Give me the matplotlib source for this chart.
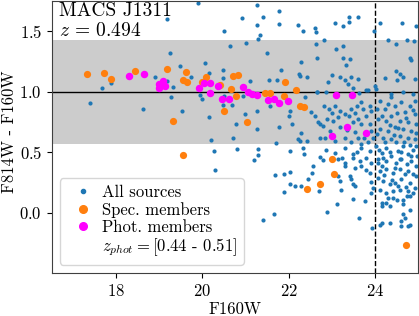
import matplotlib
matplotlib.use("Agg")
import matplotlib.pyplot as plt
from matplotlib.lines import Line2D

plt.rcParams['font.family'] = 'serif'
plt.rcParams['font.serif'] = ['cmr10']
plt.rcParams['mathtext.fontset'] = 'cm'
plt.rcParams['axes.formatter.use_mathtext'] = True

# all sources (F160W, F814W - F160W)
all_x = [19.89, 19.18, 20.50, 20.65, 19.24, 20.06, 19.48, 20.48, 20.16, 20.48, 19.17, 18.90, 17.88,
         17.67, 19.31, 19.94, 20.00, 19.26, 17.40, 18.63, 19.53, 20.16, 20.48, 20.68, 20.78, 20.72,
         20.50, 19.73, 20.20, 20.27, 20.29,
         21.27, 20.92, 21.41, 21.77, 21.27, 21.78, 22.21, 22.34, 22.61, 22.63, 23.07, 23.27, 23.41,
         23.40, 23.61, 23.98, 24.12, 24.64, 24.95, 21.33, 21.29, 21.01, 22.63, 22.83, 23.11, 23.27,
         24.30, 24.50, 24.74, 24.91, 21.49, 22.65, 22.30, 23.27, 23.42, 23.34, 21.82, 22.24, 22.26,
         22.43, 23.00, 23.19, 23.30, 23.44, 22.92, 23.38, 23.61, 23.50, 23.81, 24.00, 24.04, 24.49,
         24.58, 24.23, 24.52, 24.66, 24.93, 24.81, 24.85, 21.10, 21.55, 21.74, 22.66, 22.86, 23.64,
         23.85, 24.39, 24.66, 24.89,
         20.95, 22.38, 22.66, 20.99, 21.27, 21.26, 21.78, 22.07, 22.01, 22.03, 21.57, 22.53, 22.61,
         22.69, 22.73, 22.30, 22.22, 22.26, 22.42, 22.73, 21.70,
         20.80, 21.20, 21.28, 21.30, 21.69, 21.90, 22.04, 22.04, 21.90, 22.04, 22.15, 22.28, 22.34,
         22.36, 22.46, 22.54, 22.56, 22.72, 22.71, 21.40, 21.67,
         22.82, 22.94, 23.07, 23.19, 22.90, 23.03, 23.15, 23.31, 23.46, 23.58, 23.69, 23.73, 23.89,
         23.92, 23.81, 23.61, 23.50, 23.69, 22.80, 22.96, 23.19, 23.54, 23.61, 23.89, 23.92, 23.96,
         22.84, 23.07, 23.31, 22.88, 23.07, 23.31, 23.50, 23.69, 23.89, 23.81, 23.69,
         24.12, 24.23, 24.39, 24.47, 24.62, 24.70, 24.81, 24.93, 24.93, 24.08, 24.27, 24.39, 24.58,
         24.77, 24.97, 24.12, 24.31, 24.47, 24.66, 24.85, 24.19, 24.39, 24.58, 24.77, 24.93, 24.50,
         24.04, 24.16, 24.27, 24.39, 24.54, 24.66, 24.77, 24.89, 24.99, 24.08, 24.58,
         22.79, 23.15, 23.31, 23.50, 23.65, 23.92, 23.31, 23.54, 23.69, 23.89, 23.15, 23.19, 23.42,
         23.46, 23.50, 23.54, 23.23, 23.92, 23.96, 23.92, 23.50, 23.77, 23.13, 22.90, 23.64, 23.94,
         24.08, 24.16, 24.27, 24.50, 24.62, 24.74, 24.85, 24.97, 24.12, 24.27, 24.43, 24.58, 24.77,
         24.89, 24.08, 24.19, 24.35, 24.47, 24.62, 24.81, 24.93, 24.12, 24.27, 24.43, 24.58, 24.77,
         24.81, 24.16, 24.27, 24.43, 24.66, 24.74, 24.16, 24.35, 24.66, 24.81, 24.66, 24.70, 24.62,
         24.12, 24.16, 24.35, 24.62, 24.77, 24.81,
         24.05, 24.17, 24.30, 24.35, 24.52, 24.55, 24.72, 24.88, 24.95, 24.05, 24.25, 24.45, 24.68,
         24.83, 24.97, 24.10, 24.35, 24.62, 24.85, 24.20, 24.48, 24.70, 24.95, 24.22, 24.40, 24.55,
         24.72, 24.90, 24.30, 24.52, 23.40, 23.55, 23.75, 23.45, 23.25, 23.60, 23.85, 23.00, 23.35,
         23.80]
all_y = [1.737, 1.60, 1.50, 1.38, 1.32, 1.24, 1.21, 1.18, 1.155, 1.11, 1.09, 1.12, 1.07,
         1.03, 1.036, 0.975, 0.94, 0.953, 0.91, 0.856, 0.836, 0.787, 0.892, 0.89, 0.73, 0.62,
         0.96, 1.125, 0.60, 0.51, 0.352,
         1.717, 1.606, 1.615, 1.67, 1.55, 1.56, 1.55, 1.504, 1.53, 1.49, 1.565, 1.546, 1.617,
         1.58, 1.62, 1.50, 1.567, 1.57, 1.54, 1.47, 1.434, 1.40, 1.39, 1.43, 1.35, 1.374,
         1.43, 1.39, 1.43, 1.415, 1.32, 1.28, 1.243, 1.277, 1.266, 1.22, 1.18, 1.15, 1.13,
         1.125, 1.14, 1.12, 1.10, 1.12, 1.08, 1.064, 1.105, 1.03, 1.014, 1.05, 1.022, 1.17,
         1.15, 1.11, 1.10, 1.125, 1.105, 1.28, 1.263, 1.086, 1.097, 1.10, 1.00, 1.00, 0.986,
         1.01, 0.98, 1.00, 0.98,
         0.967, 0.958, 0.994, 0.815, 0.842, 0.69, 0.71, 0.73, 0.80, 0.842, 0.884, 0.828, 0.80,
         0.745, 0.73, 0.654, 0.607, 0.593, 0.593, 0.62, 0.579,
         0.524, 0.432, 0.477, 0.524, 0.308, 0.32, 0.51, 0.338, 0.17, 0.233, 0.22, 0.22, 0.532,
         0.488, 0.275, 0.33, 0.385, 0.46, 0.178, -0.063, -0.01,
         0.884, 0.856, 0.884, 0.842, 0.773, 0.754, 0.787, 0.815, 0.856, 0.884, 0.911, 0.856, 0.884,
         0.842, 0.80, 0.773, 0.745, 0.73, 0.718, 0.676, 0.704, 0.663, 0.62, 0.73, 0.676, 0.62,
         0.62, 0.593, 0.62, 0.52, 0.496, 0.538, 0.482, 0.538, 0.51, 0.455, 0.565,
         0.925, 0.856, 0.953, 0.884, 0.911, 0.828, 0.884, 0.925, 0.815, 0.773, 0.759, 0.80, 0.759,
         0.745, 0.73, 0.69, 0.676, 0.704, 0.69, 0.676, 0.62, 0.607, 0.635, 0.62, 0.607, 0.58,
         0.55, 0.496, 0.538, 0.468, 0.51, 0.55, 0.482, 0.52, 0.468, 0.44, 0.44,
         0.435, 0.44, 0.413, 0.455, 0.427, 0.413, 0.385, 0.37, 0.385, 0.33, 0.30, 0.26, 0.30,
         0.275, 0.233, 0.22, 0.19, 0.25, 0.205, 0.164, 0.114, 0.095, 0.07, 0.003, -0.044, -0.13,
         0.413, 0.385, 0.427, 0.413, 0.44, 0.40, 0.427, 0.385, 0.344, 0.358, 0.33, 0.358, 0.344,
         0.316, 0.288, 0.26, 0.233, 0.247, 0.275, 0.247, 0.205, 0.19, 0.164, 0.178, 0.19, 0.178,
         0.136, 0.08, 0.08, 0.122, 0.108, 0.136, 0.053, 0.053, 0.067, 0.025, -0.016, -0.044, -0.07,
         -0.099, -0.085, -0.085, -0.11, -0.113, -0.099,
         0.86, 0.80, 0.90, 0.72, 0.82, 0.70, 0.78, 0.85, 0.66, 0.65, 0.58, 0.64, 0.58,
         0.56, 0.55, 0.52, 0.50, 0.50, 0.47, 0.45, 0.37, 0.32, 0.30, 0.31, 0.27, 0.22,
         0.21, 0.16, 0.12, 0.10, 0.80, 0.82, 0.62, 0.58, 0.45, 0.50, 0.58, 0.82, 0.68,
         0.35]

# spectroscopic members
spec_x = [17.33, 17.72, 17.88, 18.43, 19.18, 19.63, 19.55, 19.65, 19.32, 20.08, 19.98, 20.42,
          20.70, 20.67, 20.50, 20.83, 20.79, 21.91, 22.18, 21.45, 21.56, 21.89, 22.26, 22.35,
          21.04, 23.01, 23.05, 22.72, 22.42, 24.72, 19.54]
spec_y = [1.147, 1.152, 1.105, 1.17, 1.19, 1.16, 1.10, 1.08, 0.76, 1.12, 1.08, 1.055,
          1.13, 1.025, 0.836, 1.14, 0.96, 1.08, 1.01, 0.986, 0.99, 0.967, 0.88, 0.875,
          0.75, 0.446, 0.32, 0.233, 0.197, -0.27, 0.474]

# photometric members
phot_x = [18.30, 18.65, 19.08, 19.00, 19.14, 19.00, 19.92, 20.03, 20.17, 20.17, 20.36, 20.45,
          20.62, 20.95, 21.06, 21.16, 21.27, 21.53, 21.66, 21.78, 21.99, 23.11, 23.47, 23.36,
          23.02, 23.81]
phot_y = [1.133, 1.147, 1.086, 1.064, 1.05, 1.027, 1.03, 1.07, 1.07, 0.99, 1.05, 0.94,
          0.94, 1.036, 1.00, 0.98, 0.975, 0.93, 0.94, 0.91, 0.92, 0.97, 0.97, 0.71,
          0.637, 0.654]

fig = plt.figure(figsize=(4.19, 3.16), dpi=100)
ax = fig.add_axes([0.1234, 0.136, 0.8735, 0.861])

ax.axhspan(0.57, 1.43, color='0.8', zorder=0, lw=0)
ax.axhline(1.0, color='k', lw=1.0, zorder=1)
ax.axvline(24, color='k', lw=1.0, ls='--', zorder=1)

ax.scatter(all_x, all_y, s=9, color='#1f77b4', lw=0, zorder=2)
ax.scatter(spec_x, spec_y, s=27, color='#ff7f0e', lw=0, zorder=3)
ax.scatter(phot_x, phot_y, s=29, color='magenta', lw=0, zorder=4)

ax.text(0.02, 0.995, 'MACS J1311\n$z\\,=\\,0.494$', transform=ax.transAxes,
        ha='left', va='top', fontsize=14, linespacing=1.15)

ax.set_xlim(16.5, 25)
ax.set_ylim(-0.5, 1.75)
ax.set_xticks([18, 20, 22, 24])
ax.set_yticks([0.0, 0.5, 1.0, 1.5])
ax.tick_params(labelsize=12)
ax.set_xlabel('F160W', fontsize=12, labelpad=2)
ax.set_ylabel('F814W - F160W', fontsize=12)
ax.yaxis.set_label_coords(-0.094, 0.52)
for sp in ax.spines.values():
    sp.set_color('0.25')

handles = [Line2D([], [], ls='none', marker='o', ms=3, color='#1f77b4'),
           Line2D([], [], ls='none', marker='o', ms=5.5, color='#ff7f0e'),
           Line2D([], [], ls='none', marker='o', ms=5.5, color='magenta'),
           Line2D([], [], ls='none')]
labels = ['All sources', 'Spec. members', 'Phot. members', r'$z_{phot} = [0.44$ - $0.51]$']
ax.legend(handles, labels, loc='lower left', fontsize=12, handletextpad=0.1,
          handlelength=2.0, borderaxespad=0.5, labelspacing=0.1)

fig.savefig('out.png', dpi=100)
